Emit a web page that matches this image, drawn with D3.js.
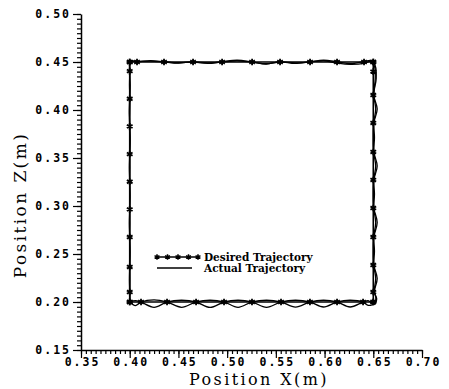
<!DOCTYPE html>
<html>
<head>
<meta charset="utf-8">
<script src="https://cdn.jsdelivr.net/npm/d3@7"></script>
<style>
  body { margin: 0; background: #fff; }
</style>
</head>
<body>
<svg id="chart" width="449" height="389"></svg>
<script>
// Tick labels
const xTickValues = [0.35, 0.40, 0.45, 0.50, 0.55, 0.60, 0.65, 0.70];
const xTickLabels = ["0.35", "0.40", "0.45", "0.50", "0.55", "0.60", "0.65", "0.70"];
const yTickValues = [0.15, 0.20, 0.25, 0.30, 0.35, 0.40, 0.45, 0.50];
const yTickLabels = ["0.15", "0.20", "0.25", "0.30", "0.35", "0.40", "0.45", "0.50"];

// Desired trajectory: square corners
const desiredX = [0.40, 0.65, 0.65, 0.40, 0.40];
const desiredZ = [0.20, 0.20, 0.45, 0.45, 0.20];

// Star markers on the desired trajectory
const starsBottom = [0.400, 0.4116, 0.4383, 0.4681, 0.4968, 0.5255, 0.5553, 0.585, 0.6128, 0.6395, 0.650];
const starsRight  = [0.200, 0.2104, 0.2385, 0.2677, 0.2979, 0.3271, 0.3563, 0.3865, 0.4156, 0.440, 0.450];
const starsTop    = [0.650, 0.6405, 0.6128, 0.5851, 0.5543, 0.5256, 0.4948, 0.465, 0.4352, 0.4075, 0.400];
const starsLeft   = [0.450, 0.4405, 0.4117, 0.3829, 0.3541, 0.3253, 0.2965, 0.2677, 0.2365, 0.2104, 0.200];

// Actual trajectory, first lap [x, z]
const actualLap1 = [
  [0.400, 0.200], [0.4058, 0.2015], [0.4116, 0.200], [0.425, 0.1945], [0.4383, 0.200],
  [0.4532, 0.2018], [0.4681, 0.200], [0.4825, 0.1943], [0.4968, 0.200], [0.5112, 0.2018],
  [0.5255, 0.200], [0.5404, 0.1945], [0.5553, 0.200], [0.5702, 0.2018], [0.585, 0.200],
  [0.5989, 0.1948], [0.6128, 0.200], [0.6262, 0.2018], [0.6395, 0.200], [0.6448, 0.1965],
  [0.652, 0.199], [0.6525, 0.2052], [0.651, 0.2104], [0.654, 0.2245], [0.6505, 0.2385],
  [0.650, 0.2531], [0.6505, 0.2677], [0.654, 0.2828], [0.6505, 0.2979], [0.650, 0.3125],
  [0.6505, 0.3271], [0.654, 0.3417], [0.6505, 0.3563], [0.650, 0.3714], [0.6505, 0.3865],
  [0.654, 0.401], [0.6505, 0.4156], [0.653, 0.4328], [0.652, 0.446], [0.648, 0.4515],
  [0.6405, 0.4505], [0.6267, 0.4482], [0.6128, 0.4502], [0.599, 0.4518], [0.5851, 0.4502],
  [0.5697, 0.4485], [0.5543, 0.4502], [0.540, 0.4478], [0.5256, 0.4500], [0.5102, 0.4518],
  [0.4948, 0.4502], [0.4799, 0.4485], [0.465, 0.4502], [0.4501, 0.4488], [0.4352, 0.4503],
  [0.4214, 0.4515], [0.4075, 0.4505], [0.401, 0.451], [0.3998, 0.4405], [0.4005, 0.426],
  [0.3999, 0.4117], [0.3995, 0.397], [0.4001, 0.3829], [0.4005, 0.3685], [0.400, 0.3541],
  [0.3996, 0.340], [0.400, 0.3253], [0.4004, 0.311], [0.400, 0.2965], [0.3996, 0.282],
  [0.400, 0.2677], [0.4004, 0.252], [0.400, 0.2365], [0.3997, 0.223], [0.400, 0.2104],
  [0.4002, 0.202], [0.400, 0.200]
];

// Actual trajectory, second lap [x, z]
const actualLap2 = [
  [0.400, 0.2005], [0.4058, 0.1962], [0.4116, 0.200], [0.425, 0.2022], [0.4383, 0.200],
  [0.4532, 0.1945], [0.4681, 0.200], [0.4825, 0.2018], [0.4968, 0.200], [0.5112, 0.1945],
  [0.5255, 0.200], [0.5404, 0.2018], [0.5553, 0.200], [0.5702, 0.1947], [0.585, 0.200],
  [0.5989, 0.2018], [0.6128, 0.200], [0.6262, 0.1948], [0.6395, 0.200], [0.6448, 0.2015],
  [0.651, 0.1975], [0.6535, 0.2035], [0.651, 0.2104], [0.6525, 0.2245], [0.6505, 0.2385],
  [0.6512, 0.2531], [0.6505, 0.2677], [0.6525, 0.2828], [0.6505, 0.2979], [0.6512, 0.3125],
  [0.6505, 0.3271], [0.6525, 0.3417], [0.6505, 0.3563], [0.6512, 0.3714], [0.6505, 0.3865],
  [0.6525, 0.401], [0.6505, 0.4156], [0.652, 0.4328], [0.6512, 0.4455], [0.647, 0.4505],
  [0.6405, 0.4485], [0.6267, 0.4475], [0.6128, 0.4488], [0.599, 0.4512], [0.5851, 0.4500],
  [0.5697, 0.4490], [0.5543, 0.4500], [0.540, 0.4482], [0.5256, 0.4498], [0.5102, 0.4512],
  [0.4948, 0.4500], [0.4799, 0.4490], [0.465, 0.4500], [0.4501, 0.4492], [0.4352, 0.4500],
  [0.4214, 0.4510], [0.4075, 0.4502], [0.4005, 0.4505], [0.4002, 0.440], [0.3998, 0.426],
  [0.4002, 0.4117], [0.4, 0.397], [0.3998, 0.3829], [0.4002, 0.3685], [0.400, 0.3541],
  [0.4002, 0.340], [0.3999, 0.3253], [0.4001, 0.311], [0.400, 0.2965], [0.4002, 0.282],
  [0.3999, 0.2677], [0.4001, 0.252], [0.400, 0.2365], [0.4002, 0.223], [0.400, 0.2104],
  [0.3999, 0.203], [0.400, 0.2005]
];

const svg = d3.select("#chart");

const x = d3.scaleLinear().domain([0.35, 0.70]).range([81, 422]);
const y = d3.scaleLinear().domain([0.15, 0.50]).range([350, 14]);

const tickFont = "'DejaVu Sans Mono', monospace";
const titleFont = "'DejaVu Serif', 'Liberation Serif', serif";

// Minor ticks
svg.append("g")
    .attr("transform", "translate(0,350)")
    .call(d3.axisBottom(x).ticks(70).tickSize(4).tickFormat(""))
    .call(g => g.select(".domain").remove());

svg.append("g")
    .attr("transform", "translate(81,0)")
    .call(d3.axisLeft(y).ticks(70).tickSize(4).tickFormat(""))
    .call(g => g.select(".domain").remove());

// Major ticks and labels
const xAxis = svg.append("g")
    .attr("transform", "translate(0,350)")
    .call(d3.axisBottom(x).tickValues(xTickValues).tickSize(8).tickSizeOuter(0)
        .tickPadding(0).tickFormat((d, i) => xTickLabels[i]));

const yAxis = svg.append("g")
    .attr("transform", "translate(81,0)")
    .call(d3.axisLeft(y).tickValues(yTickValues).tickSize(8).tickSizeOuter(0)
        .tickPadding(2).tickFormat((d, i) => yTickLabels[i]));

svg.selectAll(".tick line").attr("stroke", "#000").attr("stroke-width", 1.2);
svg.selectAll(".domain").attr("stroke", "#000").attr("stroke-width", 1.5);

[xAxis, yAxis].forEach(a => a.selectAll("text")
    .attr("font-family", tickFont)
    .attr("font-size", 11.5)
    .attr("font-weight", "bold")
    .attr("letter-spacing", 2)
    .attr("fill", "#000"));
xAxis.selectAll("text").attr("dx", 1);

// Axis titles
svg.append("text")
    .attr("x", 259).attr("y", 385)
    .attr("text-anchor", "middle")
    .attr("font-family", titleFont)
    .attr("font-size", 16)
    .attr("letter-spacing", 2.4)
    .text("Position X(m)");

svg.append("text")
    .attr("transform", "translate(26,205) rotate(-90)")
    .attr("text-anchor", "middle")
    .attr("font-family", titleFont)
    .attr("font-size", 17)
    .attr("letter-spacing", 2.4)
    .text("Position Z(m)");

// Desired trajectory
const desired = desiredX.map((d, i) => [d, desiredZ[i]]);
const line = d3.line().x(d => x(d[0])).y(d => y(d[1]));
svg.append("path")
    .datum(desired)
    .attr("fill", "none")
    .attr("stroke", "#000")
    .attr("stroke-width", 1.6)
    .attr("d", line);

// Actual trajectory
const smooth = d3.line().x(d => x(d[0])).y(d => y(d[1])).curve(d3.curveCatmullRom);
[actualLap1, actualLap2].forEach(lap => {
  svg.append("path")
      .datum(lap)
      .attr("fill", "none")
      .attr("stroke", "#000")
      .attr("stroke-width", 1.3)
      .attr("d", smooth);
});

// Star markers
const stars = []
  .concat(starsBottom.map(v => [v, 0.20]))
  .concat(starsRight.map(v => [0.65, v]))
  .concat(starsTop.map(v => [v, 0.45]))
  .concat(starsLeft.map(v => [0.40, v]));

const star = d3.symbol().type(d3.symbolAsterisk).size(30);
svg.append("g").selectAll("path")
    .data(stars)
    .join("path")
    .attr("transform", d => `translate(${x(d[0])},${y(d[1])})`)
    .attr("d", star)
    .attr("fill", "none")
    .attr("stroke", "#000")
    .attr("stroke-width", 1.8);

// Legend
const legend = svg.append("g");
legend.append("line")
    .attr("x1", 156).attr("x2", 199).attr("y1", 257).attr("y2", 257)
    .attr("stroke", "#000").attr("stroke-width", 1.4);
legend.selectAll("path")
    .data([157, 167.5, 178, 188.5, 198])
    .join("path")
    .attr("transform", d => `translate(${d},257)`)
    .attr("d", d3.symbol().type(d3.symbolAsterisk).size(22))
    .attr("fill", "none").attr("stroke", "#000").attr("stroke-width", 1.5);
legend.append("line")
    .attr("x1", 157).attr("x2", 192).attr("y1", 268).attr("y2", 268)
    .attr("stroke", "#000").attr("stroke-width", 1.3);
legend.append("text")
    .attr("x", 204).attr("y", 261)
    .attr("font-family", titleFont).attr("font-size", 10.5).attr("font-weight", "bold")
    .text("Desired Trajectory");
legend.append("text")
    .attr("x", 204).attr("y", 272)
    .attr("font-family", titleFont).attr("font-size", 10.5).attr("font-weight", "bold")
    .text("Actual Trajectory");
</script>
</body>
</html>
